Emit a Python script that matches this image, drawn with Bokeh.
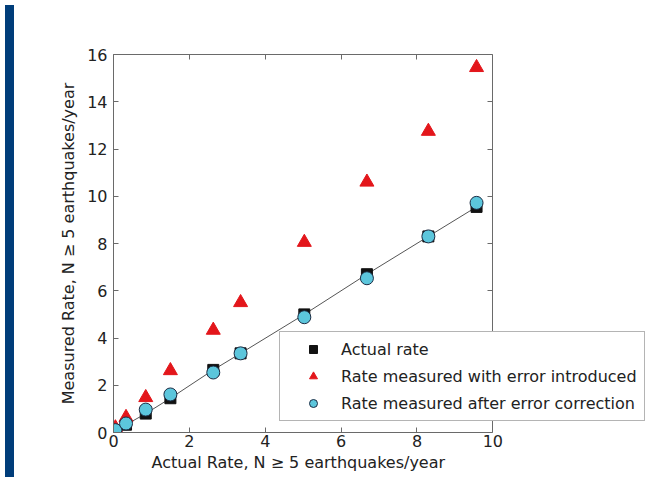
from bokeh.plotting import figure
from bokeh.models import LinearAxis, Range1d, Legend, LegendItem, Div, FixedTicker, Title
from bokeh.layouts import row
from bokeh.embed import file_html
from bokeh.resources import INLINE

# Data
actual_x = [0.05, 0.33, 0.85, 1.5, 2.63, 3.35, 5.03, 6.68, 8.3, 9.57]
actual_rate = [0.05, 0.33, 0.8, 1.45, 2.65, 3.35, 5.0, 6.7, 8.3, 9.55]
rate_with_error = [0.2, 0.64, 1.48, 2.62, 4.33, 5.5, 8.05, 10.6, 12.75, 15.45]
rate_corrected = [0.1, 0.38, 0.97, 1.61, 2.54, 3.35, 4.88, 6.53, 8.3, 9.72]

x_ticks = [0, 2, 4, 6, 8, 10]
y_ticks = [0, 2, 4, 6, 8, 10, 12, 14, 16]
x_max = 10
y_max = 16

labels = ["Actual rate", "Rate measured with error introduced", "Rate measured after error correction"]
x_title = "Actual Rate, N \u2265 5 earthquakes/year"
y_title = "Measured Rate, N \u2265 5 earthquakes/year"

FONT = "DejaVu Sans"
GRAY = "#6a6a6a"
TXT = "#222222"
H = 472

# frame extends past x=10 so that the legend can overhang the box to the right
p = figure(width=627, height=H, output_backend="svg", toolbar_location=None,
           x_range=Range1d(0, 14.05), y_range=Range1d(0, y_max),
           min_border_left=94, min_border_right=0, min_border_top=54, min_border_bottom=40)
p.background_fill_color = "white"
p.border_fill_color = "white"
p.outline_line_color = None
p.grid.visible = False

line_r = p.line(actual_x, actual_rate, line_color="#555555", line_width=1)
sq = p.scatter(actual_x, actual_rate, marker="square", size=11, fill_color="#111111", line_color="#111111")
tri = p.scatter(actual_x, rate_with_error, marker="triangle", size=14, fill_color="#e3161b", line_color="#e3161b")
cir = p.scatter(actual_x, rate_corrected, marker="circle", size=13, fill_color="#5cc6dc", line_color="#1c2c44", line_width=1)

for ax in (p.xaxis[0], p.yaxis[0]):
    ax.major_tick_in = 5
    ax.major_tick_out = 0
    ax.minor_tick_line_color = None
    ax.axis_line_color = GRAY
    ax.major_tick_line_color = GRAY
    ax.major_label_text_font = FONT
    ax.major_label_text_font_size = "16px"
    ax.major_label_text_color = TXT
    ax.axis_label_text_font = FONT
    ax.axis_label_text_font_size = "16px"
    ax.axis_label_text_font_style = "normal"
    ax.axis_label_text_color = TXT

p.xaxis[0].ticker = FixedTicker(ticks=x_ticks)
p.xaxis[0].bounds = (0, x_max)
p.yaxis[0].ticker = FixedTicker(ticks=y_ticks)
p.yaxis[0].axis_label = y_title
p.xaxis[0].major_label_standoff = 2
p.yaxis[0].major_label_standoff = 6
p.yaxis[0].axis_label_standoff = 6

# x-axis title placed under the 0..10 box (the frame itself is wider)
x_label = Title(text=x_title, align="left", offset=38, standoff=2,
                text_font=FONT, text_font_size="16px", text_font_style="normal",
                text_color=TXT)
p.add_layout(x_label, "below")

# box: top edge and right edge (at x = 10) with inward ticks, no labels
right_ax = LinearAxis(ticker=FixedTicker(ticks=y_ticks), fixed_location=x_max)
top_ax = LinearAxis(ticker=FixedTicker(ticks=x_ticks), bounds=(0, x_max))
right_ax.major_label_overrides = {t: "" for t in y_ticks}
top_ax.major_label_overrides = {t: "" for t in x_ticks}
for ax in (right_ax, top_ax):
    ax.major_tick_in = 5
    ax.major_tick_out = 0
    ax.minor_tick_line_color = None
    ax.axis_line_color = GRAY
    ax.major_tick_line_color = GRAY
    ax.major_label_standoff = 0
    ax.major_label_text_font_size = "1px"
p.add_layout(right_ax, "right")
p.add_layout(top_ax, "above")

legend = Legend(items=[LegendItem(label=labels[0], renderers=[sq]),
                       LegendItem(label=labels[1], renderers=[tri]),
                       LegendItem(label=labels[2], renderers=[cir])],
                location=(166, 11))
legend.label_text_font = FONT
legend.label_text_font_size = "16px"
legend.label_text_color = TXT
legend.glyph_width = 52
legend.glyph_height = 20
legend.label_height = 20
legend.label_standoff = 2
legend.spacing = 7
legend.padding = 7
legend.margin = 0
legend.border_line_color = GRAY
legend.border_line_width = 1
legend.background_fill_color = "white"
legend.background_fill_alpha = 1.0
p.add_layout(legend, "center")

strip = Div(width=9, height=H, styles={"background-color": "#003d7a"})

layout = row(strip, p)

open("out.html", "w").write(file_html(layout, INLINE))
